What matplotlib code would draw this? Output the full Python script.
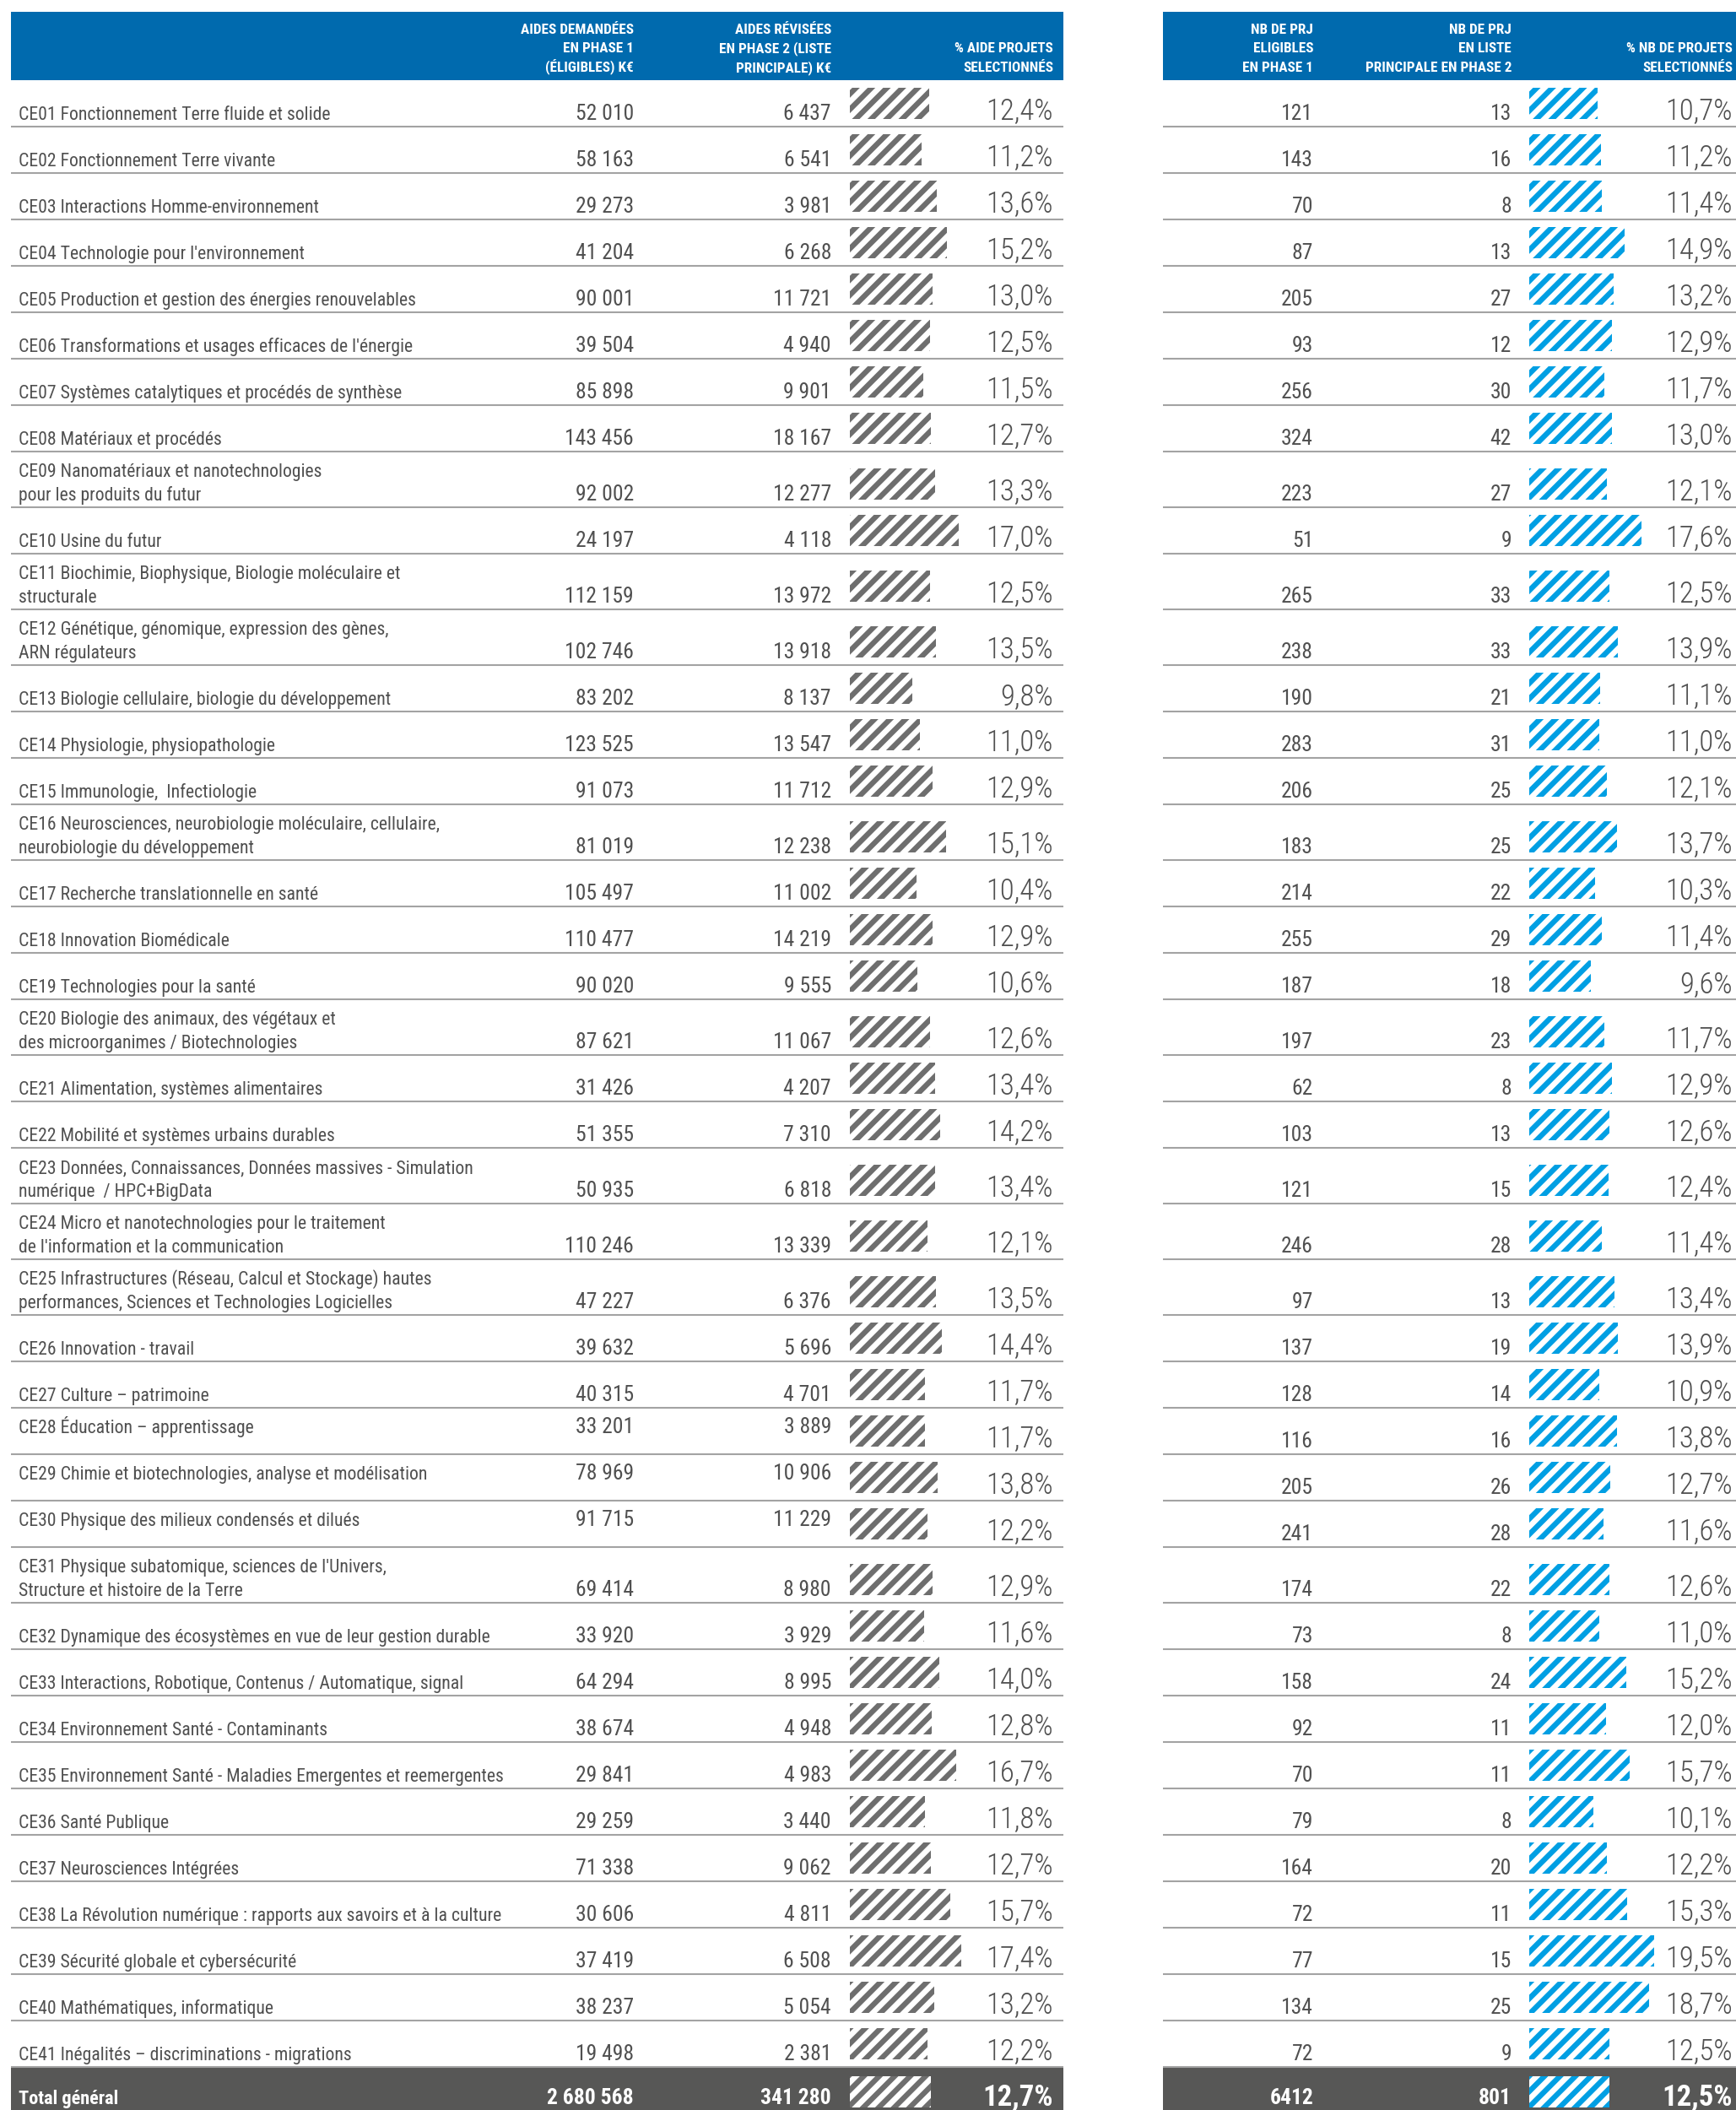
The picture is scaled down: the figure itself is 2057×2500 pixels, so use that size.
import os
import matplotlib
matplotlib.use("Agg")
import matplotlib.pyplot as plt
from matplotlib import font_manager
from matplotlib.font_manager import FontProperties
from matplotlib.patches import Rectangle

DPI = 110
PT = 100 / DPI  # tailles ecrites "a 100 dpi"
plt.rcParams['hatch.linewidth'] = 4.6 * PT


def trouver_police(poids):
    # cherche une police sans-serif condensee installee, au poids le plus proche
    prefs = ['roboto', 'liberation', 'noto sans', 'open sans', 'dejavu sans', 'lato']
    choix = []
    for f in font_manager.fontManager.ttflist:
        cle = (f.name + ' ' + os.path.basename(f.fname)).lower()
        if 'mono' in cle or ('serif' in cle and 'sans' not in cle):
            continue
        if not ('condensed' in cle or 'narrow' in cle or f.stretch in ('condensed', 'semi-condensed')):
            continue
        if f.style != 'normal' or 'italic' in cle:
            continue
        w = f.weight if isinstance(f.weight, int) else font_manager.weight_dict.get(f.weight, 400)
        rang = next((i for i, p in enumerate(prefs) if p in cle), len(prefs))
        largeur = 1 if ('extra' in cle or 'ultra' in cle or 'semi' in cle) else 0
        choix.append((rang, largeur, abs(w - poids), f.fname))
    if not choix:
        return None
    return sorted(choix)[0][3]


POLICES = {'light': trouver_police(300), 'normal': trouver_police(400), 'bold': trouver_police(700)}
ECH_TXT = 1.0 if POLICES['normal'] else 0.86


def fp(taille, poids='normal'):
    chemin = POLICES[poids]
    if chemin is None:
        return FontProperties(family='DejaVu Sans', size=taille * ECH_TXT * PT, weight=poids)
    return FontProperties(fname=chemin, size=taille * ECH_TXT * PT)


## Donnees
libelles = [
    "CE01 Fonctionnement Terre fluide et solide",
    "CE02 Fonctionnement Terre vivante",
    "CE03 Interactions Homme-environnement",
    "CE04 Technologie pour l'environnement",
    "CE05 Production et gestion des énergies renouvelables",
    "CE06 Transformations et usages efficaces de l'énergie",
    "CE07 Systèmes catalytiques et procédés de synthèse",
    "CE08 Matériaux et procédés",
    "CE09 Nanomatériaux et nanotechnologies\npour les produits du futur",
    "CE10 Usine du futur",
    "CE11 Biochimie, Biophysique, Biologie moléculaire et\nstructurale",
    "CE12 Génétique, génomique, expression des gènes,\nARN régulateurs",
    "CE13 Biologie cellulaire, biologie du développement",
    "CE14 Physiologie, physiopathologie",
    "CE15 Immunologie,  Infectiologie",
    "CE16 Neurosciences, neurobiologie moléculaire, cellulaire,\nneurobiologie du développement",
    "CE17 Recherche translationnelle en santé",
    "CE18 Innovation Biomédicale",
    "CE19 Technologies pour la santé",
    "CE20 Biologie des animaux, des végétaux et\ndes microorganimes / Biotechnologies",
    "CE21 Alimentation, systèmes alimentaires",
    "CE22 Mobilité et systèmes urbains durables",
    "CE23 Données, Connaissances, Données massives - Simulation\nnumérique  / HPC+BigData",
    "CE24 Micro et nanotechnologies pour le traitement\nde l'information et la communication",
    "CE25 Infrastructures (Réseau, Calcul et Stockage) hautes\nperformances, Sciences et Technologies Logicielles",
    "CE26 Innovation - travail",
    "CE27 Culture – patrimoine",
    "CE28 Éducation – apprentissage",
    "CE29 Chimie et biotechnologies, analyse et modélisation",
    "CE30 Physique des milieux condensés et dilués",
    "CE31 Physique subatomique, sciences de l'Univers,\nStructure et histoire de la Terre",
    "CE32 Dynamique des écosystèmes en vue de leur gestion durable",
    "CE33 Interactions, Robotique, Contenus / Automatique, signal",
    "CE34 Environnement Santé - Contaminants",
    "CE35 Environnement Santé - Maladies Emergentes et reemergentes",
    "CE36 Santé Publique",
    "CE37 Neurosciences Intégrées",
    "CE38 La Révolution numérique : rapports aux savoirs et à la culture",
    "CE39 Sécurité globale et cybersécurité",
    "CE40 Mathématiques, informatique",
    "CE41 Inégalités – discriminations - migrations",
]

aides_demandees = [52010, 58163, 29273, 41204, 90001, 39504, 85898, 143456, 92002, 24197,
                   112159, 102746, 83202, 123525, 91073, 81019, 105497, 110477, 90020, 87621,
                   31426, 51355, 50935, 110246, 47227, 39632, 40315, 33201, 78969, 91715,
                   69414, 33920, 64294, 38674, 29841, 29259, 71338, 30606, 37419, 38237, 19498]
aides_revisees = [6437, 6541, 3981, 6268, 11721, 4940, 9901, 18167, 12277, 4118,
                  13972, 13918, 8137, 13547, 11712, 12238, 11002, 14219, 9555, 11067,
                  4207, 7310, 6818, 13339, 6376, 5696, 4701, 3889, 10906, 11229,
                  8980, 3929, 8995, 4948, 4983, 3440, 9062, 4811, 6508, 5054, 2381]
pct_aide = [12.4, 11.2, 13.6, 15.2, 13.0, 12.5, 11.5, 12.7, 13.3, 17.0,
            12.5, 13.5, 9.8, 11.0, 12.9, 15.1, 10.4, 12.9, 10.6, 12.6,
            13.4, 14.2, 13.4, 12.1, 13.5, 14.4, 11.7, 11.7, 13.8, 12.2,
            12.9, 11.6, 14.0, 12.8, 16.7, 11.8, 12.7, 15.7, 17.4, 13.2, 12.2]
nb_eligibles = [121, 143, 70, 87, 205, 93, 256, 324, 223, 51,
                265, 238, 190, 283, 206, 183, 214, 255, 187, 197,
                62, 103, 121, 246, 97, 137, 128, 116, 205, 241,
                174, 73, 158, 92, 70, 79, 164, 72, 77, 134, 72]
nb_liste = [13, 16, 8, 13, 27, 12, 30, 42, 27, 9,
            33, 33, 21, 31, 25, 25, 22, 29, 18, 23,
            8, 13, 15, 28, 13, 19, 14, 16, 26, 28,
            22, 8, 24, 11, 11, 8, 20, 11, 15, 25, 9]
pct_nb = [10.7, 11.2, 11.4, 14.9, 13.2, 12.9, 11.7, 13.0, 12.1, 17.6,
          12.5, 13.9, 11.1, 11.0, 12.1, 13.7, 10.3, 11.4, 9.6, 11.7,
          12.9, 12.6, 12.4, 11.4, 13.4, 13.9, 10.9, 13.8, 12.7, 11.6,
          12.6, 11.0, 15.2, 12.0, 15.7, 10.1, 12.2, 15.3, 19.5, 18.7, 12.5]

total_libelle = "Total général"
total_demandees = 2680568
total_revisees = 341280
total_pct_aide = 12.7
total_eligibles = 6412
total_liste = 801
total_pct_nb = 12.5

# lignes decalees vers le haut dans l'original
lignes_hautes = ["CE28", "CE29", "CE30"]

entetes_g = [["AIDES DEMANDÉES", "EN PHASE 1", "(ÉLIGIBLES) K€"],
             ["AIDES RÉVISÉES", "EN PHASE 2 (LISTE", "PRINCIPALE) K€"],
             ["% AIDE PROJETS", "SELECTIONNÉS"]]
entetes_d = [["NB DE PRJ", "ELIGIBLES", "EN PHASE 1"],
             ["NB DE PRJ", "EN LISTE", "PRINCIPALE EN PHASE 2"],
             ["% NB DE PROJETS", "SELECTIONNÉS"]]

## Style / mise en page
BLEU = '#006aae'
BLEU_HACH = '#009fe3'
GRIS_HACH = '#6e6e6e'
GRIS_TXT = '#505050'
GRIS_LIGNE = '#a3a3a3'
GRIS_TOTAL = '#575756'
W, H = 2057, 2500
ECH = 7.57  # px par %

G0, G1 = 13, 1260      # table gauche
D0, D1 = 1378, 2057    # table droite
X_LIB = 22
XG = [751, 985, 1248]
XD = [1556, 1791, 2053]
BAR_G, BAR_D = 1007, 1812
T_LIB, T_NUM, T_PCT, T_ENT = 15.7, 18.5, 25, 12.3


def fmt_k(v):
    return f"{v:,}".replace(',', ' ')


def fmt_pct(p):
    return f"{p:.1f}%".replace('.', ',')


fig = plt.figure(figsize=(W / DPI, H / DPI), dpi=DPI)
ax = fig.add_axes([0, 0, 1, 1])
ax.set_xlim(0, W)
ax.set_ylim(H, 0)
ax.axis('off')


def txt(x, y, s, taille, poids='normal', ha='right', couleur=GRIS_TXT):
    ax.text(x, y, s, ha=ha, va='baseline', color=couleur, fontproperties=fp(taille, poids))


# entetes bleus
haut_ent, bas_ent = 14, 95
for x0, x1, xs, ents in [(G0, G1, XG, entetes_g), (D0, D1, XD, entetes_d)]:
    ax.add_patch(Rectangle((x0, haut_ent), x1 - x0, bas_ent - haut_ent, color=BLEU, lw=0))
    for x, lignes in zip(xs, ents):
        for k, t in enumerate(reversed(lignes)):
            txt(x, 85 - k * 22.5, t, T_ENT, poids='bold', couleur='white')

# lignes du tableau
y = bas_ent
centres = []
for i, lib in enumerate(libelles):
    nl = lib.count('\n') + 1
    h = 55 if nl == 1 else 66
    bas = y + h
    centres.append(bas - 27.5)
    decal = 17 if lib[:4] in lignes_hautes else 0
    for k, t in enumerate(reversed(lib.split('\n'))):
        txt(X_LIB, bas - 8 - decal - k * 28, t, T_LIB, ha='left')
    txt(XG[0], bas - 8 - decal, fmt_k(aides_demandees[i]), T_NUM)
    txt(XG[1], bas - 8 - decal, fmt_k(aides_revisees[i]), T_NUM)
    txt(XG[2], bas - 8, fmt_pct(pct_aide[i]), T_PCT, poids='light')
    txt(XD[0], bas - 8, str(nb_eligibles[i]), T_NUM)
    txt(XD[1], bas - 8, str(nb_liste[i]), T_NUM)
    txt(XD[2], bas - 8, fmt_pct(pct_nb[i]), T_PCT, poids='light')
    ax.plot([G0, G1], [bas, bas], color=GRIS_LIGNE, lw=1.5 * PT, solid_capstyle='butt')
    ax.plot([D0, D1], [bas, bas], color=GRIS_LIGNE, lw=1.5 * PT, solid_capstyle='butt')
    y = bas

# ligne total
haut_tot = y + 1
ax.add_patch(Rectangle((G0, haut_tot), G1 - G0, H - haut_tot, color=GRIS_TOTAL, lw=0))
ax.add_patch(Rectangle((D0, haut_tot), D1 - D0, H - haut_tot, color=GRIS_TOTAL, lw=0))
base_tot = haut_tot + 43
txt(X_LIB, base_tot, total_libelle, 16, poids='bold', ha='left', couleur='white')
txt(XG[0], base_tot, fmt_k(total_demandees), T_NUM, poids='bold', couleur='white')
txt(XG[1], base_tot, fmt_k(total_revisees), T_NUM, poids='bold', couleur='white')
txt(XG[2], base_tot + 1, fmt_pct(total_pct_aide), T_PCT, poids='bold', couleur='white')
txt(XD[0], base_tot, str(total_eligibles), T_NUM, poids='bold', couleur='white')
txt(XD[1], base_tot, str(total_liste), T_NUM, poids='bold', couleur='white')
txt(XD[2], base_tot + 1, fmt_pct(total_pct_nb), T_PCT, poids='bold', couleur='white')
centre_tot = haut_tot + 28

# barres hachurees
ax.barh(centres + [centre_tot], [p * ECH for p in pct_aide + [total_pct_aide]], left=BAR_G,
        height=37, color='white', edgecolor=GRIS_HACH, hatch='//', lw=0)
ax.barh(centres + [centre_tot], [p * ECH for p in pct_nb + [total_pct_nb]], left=BAR_D,
        height=37, color='white', edgecolor=BLEU_HACH, hatch='//', lw=0)

fig.savefig('out.png', dpi=DPI, facecolor='white')
